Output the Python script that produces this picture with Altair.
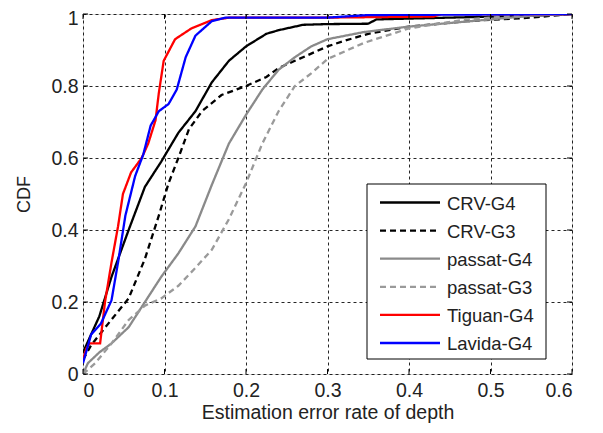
import altair as alt
import pandas as pd

# ---- data ----
series_names = ["CRV-G4", "CRV-G3", "passat-G4", "passat-G3", "Tiguan-G4", "Lavida-G4"]

crv_g4_x = [0, 0.02, 0.035, 0.056, 0.076, 0.096, 0.117, 0.138, 0.158, 0.179, 0.2, 0.225, 0.24, 0.27, 0.3, 0.35, 0.36, 0.45, 0.55, 0.6]
crv_g4_y = [0.06, 0.16, 0.27, 0.40, 0.52, 0.59, 0.67, 0.73, 0.81, 0.87, 0.91, 0.945, 0.955, 0.97, 0.972, 0.973, 0.985, 0.99, 0.995, 1.0]

crv_g3_x = [0, 0.01, 0.031, 0.056, 0.076, 0.093, 0.105, 0.117, 0.13, 0.146, 0.17, 0.2, 0.225, 0.24, 0.26, 0.28, 0.3, 0.32, 0.35, 0.4, 0.47, 0.55, 0.6]
crv_g3_y = [0.04, 0.08, 0.14, 0.21, 0.32, 0.44, 0.53, 0.60, 0.68, 0.73, 0.775, 0.80, 0.825, 0.85, 0.87, 0.89, 0.91, 0.925, 0.945, 0.965, 0.98, 0.99, 1.0]

passat_g4_x = [0, 0.006, 0.02, 0.035, 0.056, 0.076, 0.096, 0.117, 0.138, 0.158, 0.179, 0.2, 0.22, 0.24, 0.26, 0.28, 0.3, 0.345, 0.4, 0.45, 0.5, 0.55, 0.6]
passat_g4_y = [0.0, 0.03, 0.06, 0.085, 0.13, 0.2, 0.27, 0.335, 0.41, 0.525, 0.64, 0.72, 0.79, 0.845, 0.88, 0.91, 0.93, 0.95, 0.965, 0.975, 0.985, 0.995, 1.0]

passat_g3_x = [0, 0.015, 0.035, 0.056, 0.076, 0.096, 0.117, 0.138, 0.158, 0.179, 0.2, 0.22, 0.24, 0.26, 0.28, 0.3, 0.345, 0.4, 0.47, 0.55, 0.6]
passat_g3_y = [0.0, 0.03, 0.085, 0.15, 0.19, 0.21, 0.245, 0.295, 0.345, 0.43, 0.53, 0.64, 0.73, 0.80, 0.835, 0.875, 0.92, 0.96, 0.985, 0.998, 1.0]

tiguan_g4_x = [0, 0.004, 0.008, 0.021, 0.027, 0.035, 0.043, 0.049, 0.059, 0.072, 0.08, 0.089, 0.093, 0.095, 0.099, 0.113, 0.133, 0.158, 0.18, 0.3, 0.43, 0.44, 0.6]
tiguan_g4_y = [0.04, 0.07, 0.085, 0.085, 0.2, 0.31, 0.41, 0.50, 0.56, 0.60, 0.64, 0.705, 0.78, 0.81, 0.87, 0.93, 0.96, 0.983, 0.99, 0.99, 0.993, 1.0, 1.0]

lavida_g4_x = [0, 0.01, 0.022, 0.035, 0.043, 0.052, 0.064, 0.074, 0.083, 0.093, 0.105, 0.115, 0.126, 0.138, 0.158, 0.175, 0.3, 0.35, 0.6]
lavida_g4_y = [0.03, 0.11, 0.14, 0.205, 0.31, 0.44, 0.55, 0.61, 0.69, 0.73, 0.75, 0.79, 0.88, 0.94, 0.98, 0.99, 0.99, 0.997, 1.0]

x_ticks = [0, 0.1, 0.2, 0.3, 0.4, 0.5, 0.6]
y_ticks = [0, 0.2, 0.4, 0.6, 0.8, 1]

xs = [crv_g4_x, crv_g3_x, passat_g4_x, passat_g3_x, tiguan_g4_x, lavida_g4_x]
ys = [crv_g4_y, crv_g3_y, passat_g4_y, passat_g3_y, tiguan_g4_y, lavida_g4_y]

# ---- styles ----
colors = ["#000000", "#000000", "#8a8a8a", "#9a9a9a", "#ff0000", "#0000ff"]
dashes = [[1, 0], [6, 4], [1, 0], [6, 4], [1, 0], [1, 0]]

W, H = 489, 360
FONT = "Liberation Sans"
TXT = "#222222"

xscale = alt.Scale(domain=[0, 0.6], nice=False, zero=False)
yscale = alt.Scale(domain=[0, 1], nice=False)

xaxis = alt.Axis(values=x_ticks, format="~g", title="Estimation error rate of depth",
                 grid=True, gridDash=[3, 3], gridColor="#000000", gridOpacity=0.85,
                 ticks=False, domain=False, labelPadding=7, labelFontSize=19.5,
                 titleFontSize=19.5, titlePadding=4, labelFont=FONT, titleFont=FONT,
                 labelColor=TXT, titleColor=TXT, titleFontWeight="normal")
yaxis = alt.Axis(values=y_ticks, format="~g", title="CDF",
                 grid=True, gridDash=[3, 3], gridColor="#000000", gridOpacity=0.85,
                 ticks=False, domain=False, labelPadding=5, labelFontSize=19.5,
                 labelBaseline={"condition": {"test": "datum.value == 1", "value": "top"}, "value": "middle"},
                 labelOffset={"condition": {"test": "datum.value == 1", "value": -5}, "value": 0},
                 titleFontSize=18, titlePadding=17, labelFont=FONT, titleFont=FONT,
                 labelColor=TXT, titleColor=TXT, titleFontWeight="normal")

layers = []
# axis carrier layer (invisible)
base_df = pd.DataFrame({"x": [0, 0.6], "y": [0, 1]})
layers.append(alt.Chart(base_df).mark_point(opacity=0).encode(
    x=alt.X("x:Q", scale=xscale, axis=xaxis),
    y=alt.Y("y:Q", scale=yscale, axis=yaxis)))

for name, sx, sy, c, d in zip(series_names, xs, ys, colors, dashes):
    df = pd.DataFrame({"x": sx, "y": sy, "series": name})
    layers.append(alt.Chart(df).mark_line(color=c, strokeDash=d, strokeWidth=2.3, clip=True).encode(
        x=alt.X("x:Q", scale=xscale),
        y=alt.Y("y:Q", scale=yscale)))

# inward MATLAB-style ticks on all four sides
xt = pd.DataFrame({"v": x_ticks})
yt = pd.DataFrame({"v": y_ticks})
layers.append(alt.Chart(xt).mark_rule(color="#000000", strokeWidth=1).encode(
    x=alt.X("v:Q", scale=xscale), y=alt.value(H), y2=alt.value(H - 5)))
layers.append(alt.Chart(xt).mark_rule(color="#000000", strokeWidth=1).encode(
    x=alt.X("v:Q", scale=xscale), y=alt.value(0), y2=alt.value(5)))
layers.append(alt.Chart(yt).mark_rule(color="#000000", strokeWidth=1).encode(
    y=alt.Y("v:Q", scale=yscale), x=alt.value(0), x2=alt.value(5)))
layers.append(alt.Chart(yt).mark_rule(color="#000000", strokeWidth=1).encode(
    y=alt.Y("v:Q", scale=yscale), x=alt.value(W), x2=alt.value(W - 5)))

# legend box
one = pd.DataFrame({"a": [0]})
LX0, LX1, LY0, LY1 = 284, 463, 170, 345
layers.append(alt.Chart(one).mark_rect(fill="white", stroke="#000000", strokeWidth=1).encode(
    x=alt.value(LX0), x2=alt.value(LX1), y=alt.value(LY0), y2=alt.value(LY1)))
for i, (name, c, d) in enumerate(zip(series_names, colors, dashes)):
    yy = 188.5 + 28.1 * i
    layers.append(alt.Chart(one).mark_rule(color=c, strokeDash=d, strokeWidth=2.3).encode(
        x=alt.value(297), x2=alt.value(357), y=alt.value(yy)))
    layers.append(alt.Chart(one).mark_text(align="left", baseline="middle", fontSize=18.5,
                                           font=FONT, color=TXT).encode(
        x=alt.value(364), y=alt.value(yy + 1), text=alt.value(name)))

chart = alt.layer(*layers).properties(
    width=W, height=H,
    autosize=alt.AutoSizeParams(type="none"),
    padding={"left": 75, "top": 6, "right": 23, "bottom": 51},
).configure_view(stroke="#000000", strokeWidth=1).configure(background="white")

chart.save("out.html", embed_options={"renderer": "svg", "actions": False})
